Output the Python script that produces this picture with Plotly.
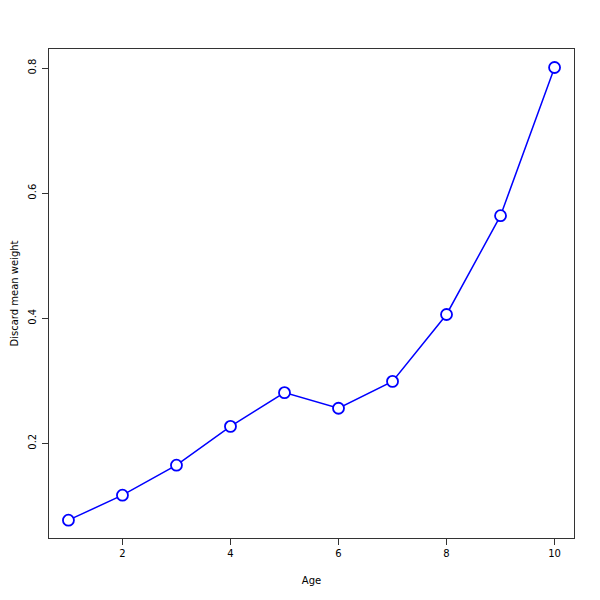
import plotly.graph_objects as go

age = [1, 2, 3, 4, 5, 6, 7, 8, 9, 10]
weight = [0.077, 0.117, 0.165, 0.227, 0.281, 0.256, 0.299, 0.406, 0.564, 0.801]
x_ticks = [2, 4, 6, 8, 10]
y_ticks = [0.2, 0.4, 0.6, 0.8]

fig = go.Figure(go.Scatter(
    x=age, y=weight, mode="lines+markers",
    line=dict(color="#0000ff", width=1.5),
    marker=dict(symbol="circle", size=11, color="white",
                line=dict(color="#0000ff", width=1.8)),
))

axis_common = dict(showgrid=False, zeroline=False, showline=True, mirror=True,
                   linecolor="#333333", linewidth=1, ticks="outside", ticklen=6,
                   tickcolor="#333333", tickfont=dict(family="DejaVu Sans", size=10, color="black"))

fig.update_layout(
    width=600, height=600, paper_bgcolor="white", plot_bgcolor="white",
    margin=dict(l=41, r=34, t=41, b=70, autoexpand=False),
    showlegend=False,
    xaxis=dict(range=[0.64, 10.36], tickvals=x_ticks, ticktext=[str(v) for v in x_ticks],
               title=dict(text="Age", font=dict(family="DejaVu Sans", size=10, color="black"), standoff=18),
               **axis_common),
    yaxis=dict(range=[0.0485, 0.8306], tickvals=y_ticks, ticktext=[str(v) for v in y_ticks],
               tickangle=-90, ticklabelstandoff=2,
               **axis_common),
    annotations=[dict(text="Discard mean weight", textangle=-90, xref="paper", yref="paper",
                      x=0, y=0.5, xanchor="center", yanchor="middle", xshift=-35, showarrow=False,
                      font=dict(family="DejaVu Sans", size=10, color="black"))],
)

fig.write_html("out.html")
